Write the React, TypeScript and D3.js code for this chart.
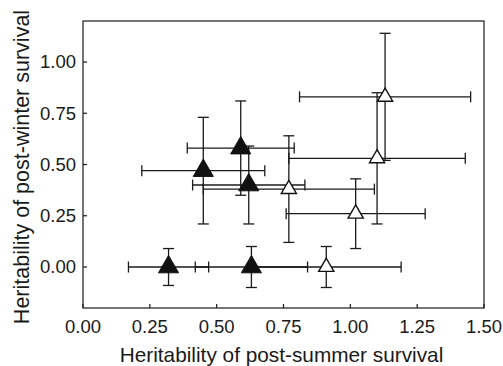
import React from "react";
import * as d3 from "d3";

const filledX = [0.32, 0.63, 0.45, 0.59, 0.62];
const filledY = [0.0, 0.0, 0.47, 0.58, 0.4];
const filledXErr = [0.15, 0.21, 0.23, 0.2, 0.21];
const filledYErr = [0.09, 0.1, 0.26, 0.23, 0.19];

const openX = [0.91, 0.77, 1.02, 1.1, 1.13];
const openY = [0.0, 0.38, 0.26, 0.53, 0.83];
const openXErr = [0.28, 0.32, 0.26, 0.33, 0.32];
const openYErr = [0.1, 0.26, 0.17, 0.32, 0.31];

const xTicks = [0, 0.25, 0.5, 0.75, 1.0, 1.25, 1.5];
const yTicks = [0, 0.25, 0.5, 0.75, 1.0];

const xTitle = "Heritability of post-summer survival";
const yTitle = "Heritability of post-winter survival";

const W = 503;
const H = 366;
const L = 83, R = 484, T = 21, B = 308;
const FONT = "'Liberation Sans', Arial, Helvetica, sans-serif";
const INK = "#1a1a1a";

export default function App() {
  const x = d3.scaleLinear().domain([0, 1.5]).range([L, R]);
  const y = d3.scaleLinear().domain([-0.2, 1.2]).range([B, T]);
  const cap = 5.5;
  const filledSym = d3.symbol().type(d3.symbolTriangle).size(175)();
  const openSym = d3.symbol().type(d3.symbolTriangle).size(100)();

  const mk = (xs: number[], ys: number[], xe: number[], ye: number[]) =>
    xs.map((v, i) => ({ x: v, y: ys[i], xe: xe[i], ye: ye[i] }));
  const filled = mk(filledX, filledY, filledXErr, filledYErr);
  const open = mk(openX, openY, openXErr, openYErr);
  const all = [...filled, ...open];

  const errBars = (d: any, i: number, key: string) => {
    const cx = x(d.x), cy = y(d.y);
    const x0 = x(d.x - d.xe), x1 = x(d.x + d.xe);
    const y0 = y(d.y - d.ye), y1 = y(d.y + d.ye);
    return (
      <g key={key + i} stroke={INK} strokeWidth={1.3} fill="none">
        <line x1={x0} x2={x1} y1={cy} y2={cy} />
        <line x1={x0} x2={x0} y1={cy - cap} y2={cy + cap} />
        <line x1={x1} x2={x1} y1={cy - cap} y2={cy + cap} />
        <line x1={cx} x2={cx} y1={y0} y2={y1} />
        <line x1={cx - cap} x2={cx + cap} y1={y0} y2={y0} />
        <line x1={cx - cap} x2={cx + cap} y1={y1} y2={y1} />
      </g>
    );
  };

  return (
    <svg width={W} height={H} style={{ position: "absolute", left: 0, top: 0, background: "#fff" }}>
      <rect x={0} y={0} width={W} height={H} fill="#fff" />
      {all.map((d, i) => errBars(d, i, "e"))}
      {filled.map((d, i) => (
        <path key={"f" + i} d={filledSym as string} transform={`translate(${x(d.x)},${y(d.y)})`} fill="#111" stroke="#111" strokeWidth={1} />
      ))}
      {open.map((d, i) => (
        <path key={"o" + i} d={openSym as string} transform={`translate(${x(d.x)},${y(d.y)})`} fill="#fff" stroke="#111" strokeWidth={1.4} />
      ))}
      <rect x={L} y={T} width={R - L} height={B - T} fill="none" stroke={INK} strokeWidth={1.2} />
      {xTicks.map((t) => (
        <g key={"xt" + t}>
          <line x1={x(t)} x2={x(t)} y1={B} y2={B - 4} stroke={INK} strokeWidth={1.2} />
          <text x={x(t)} y={332.5} textAnchor="middle" fontFamily={FONT} fontSize={18.5} fill={INK}>
            {d3.format(".2f")(t)}
          </text>
        </g>
      ))}
      {yTicks.map((t) => (
        <g key={"yt" + t}>
          <line x1={L} x2={L + 4} y1={y(t)} y2={y(t)} stroke={INK} strokeWidth={1.2} />
          <text x={76} y={y(t)} dy="0.35em" textAnchor="end" fontFamily={FONT} fontSize={18.5} fill={INK}>
            {d3.format(".2f")(t)}
          </text>
        </g>
      ))}
      <text x={281.5} y={362} textAnchor="middle" fontFamily={FONT} fontSize={20.8} fill={INK}>
        {xTitle}
      </text>
      <text transform={`translate(28.5,167) rotate(-90)`} textAnchor="middle" fontFamily={FONT} fontSize={21.5} fill={INK}>
        {yTitle}
      </text>
    </svg>
  );
}
